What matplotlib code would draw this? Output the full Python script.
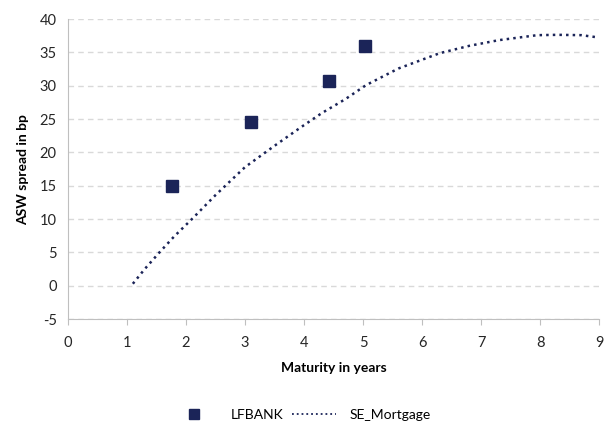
import numpy as np
import matplotlib.pyplot as plt

plt.rcParams['font.family'] = ['Lato', 'DejaVu Sans']
plt.rcParams['axes.unicode_minus'] = False

# LFBANK observations
lf_maturity = [1.76, 3.1, 4.42, 5.03]
lf_spread = [15.0, 24.5, 30.7, 36.0]

# SE_Mortgage curve
se_maturity = [1.1, 1.3, 1.55, 1.8, 2.1, 2.5, 3.0, 3.5, 3.95, 4.3, 4.7, 5.05,
               5.6, 6.3, 6.8, 7.3, 7.95, 8.3, 8.7, 8.95]
se_spread = [0.3, 2.5, 5.0, 7.4, 10.0, 13.6, 17.8, 21.0, 23.8, 25.9, 28.0, 30.1,
             32.6, 34.9, 36.0, 36.85, 37.6, 37.65, 37.6, 37.3]

navy = '#1b2458'

fig = plt.figure(figsize=(6.12, 4.26), dpi=100)
ax = fig.add_axes([0.111, 0.251, 0.868, 0.704])

ax.plot(lf_maturity, lf_spread, 's', color=navy, markersize=8.5, label='LFBANK',
        linestyle='none', zorder=3)
ax.plot(se_maturity, se_spread, ':', color=navy, linewidth=1.8, label='SE_Mortgage',
        zorder=2)

ax.set_xlim(0, 9)
ax.set_ylim(-5, 40)
ax.set_xticks(range(0, 10))
ax.set_yticks(range(-5, 41, 5))
ax.yaxis.grid(True, linestyle=(0, (4, 3)), color='#d9d9d9', linewidth=1)
ax.set_axisbelow(True)

for s in ['top', 'right']:
    ax.spines[s].set_visible(False)
for s in ['left', 'bottom']:
    ax.spines[s].set_color('#bfbfbf')
ax.tick_params(axis='y', length=0, labelsize=10.5, pad=8, colors='#262626')
ax.tick_params(axis='x', length=4, color='#bfbfbf', labelsize=10.5, pad=8,
               labelcolor='#262626')

ax.set_xlabel('Maturity in years', fontsize=10, fontweight='bold', labelpad=9)
ax.set_ylabel('ASW spread in bp', fontsize=10, fontweight='bold', labelpad=8)

leg = fig.legend(loc='center', bbox_to_anchor=(0.493, 0.025), ncol=2, frameon=False,
                 fontsize=10, handlelength=3.2, handletextpad=1.0, columnspacing=0.6,
                 markerscale=0.8)
leg.get_lines()[1].set_linewidth(1.3)

fig.savefig('out.png', dpi=100)
